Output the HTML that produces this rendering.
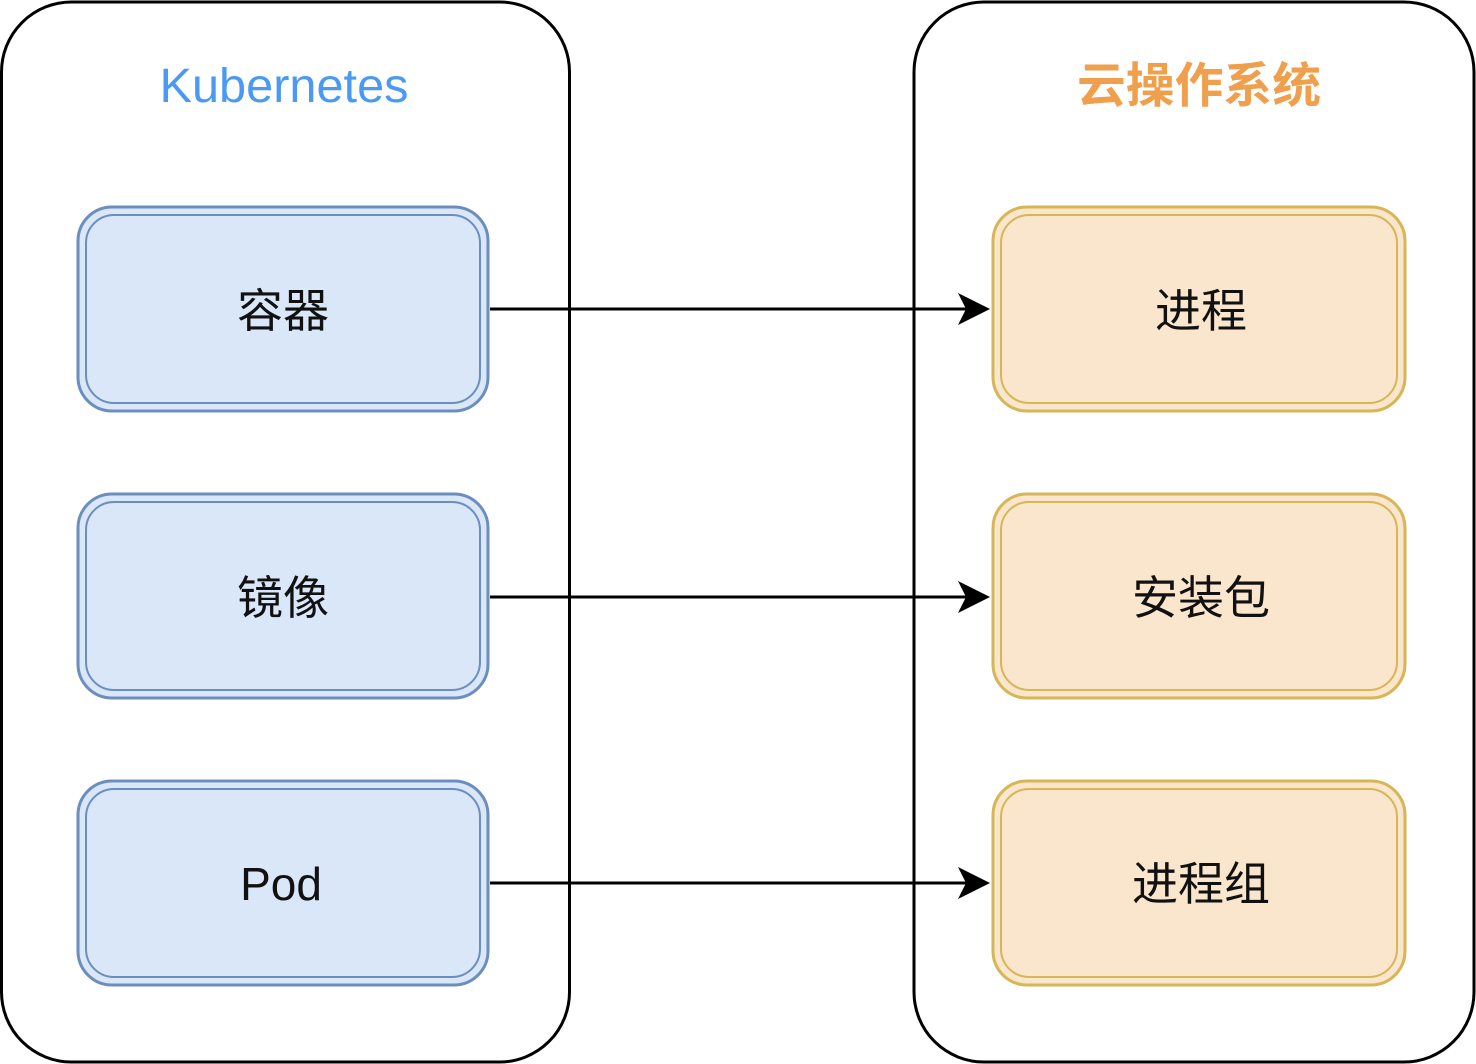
<!DOCTYPE html>
<html><head><meta charset="utf-8"><style>html,body{margin:0;padding:0;background:#fff}svg{display:block}</style></head>
<body>
<svg width="1476" height="1064" viewBox="0 0 1476 1064" xmlns="http://www.w3.org/2000/svg">
<defs>
<marker id="ah" markerWidth="10" markerHeight="10" refX="9" refY="5" orient="auto" markerUnits="userSpaceOnUse"></marker>
</defs>
<rect x="1.5" y="2" width="568" height="1060" rx="70" fill="#fff" stroke="#000" stroke-width="3"/>
<rect x="914" y="2" width="560" height="1060" rx="70" fill="#fff" stroke="#000" stroke-width="3"/>
<text x="284" y="102" text-anchor="middle" font-family="Liberation Sans, sans-serif" font-size="48" fill="#4a9af5" textLength="249" lengthAdjust="spacingAndGlyphs">Kubernetes</text>
<text x="1199" y="102" text-anchor="middle" font-family="Liberation Sans, Noto Sans CJK SC, sans-serif" font-size="48" font-weight="bold" fill="#f0a04c" textLength="244" lengthAdjust="spacingAndGlyphs">云操作系统</text>
<g fill="#dae7f8" stroke="#6c8ebf" stroke-width="3">
<rect x="78" y="207" width="410" height="204" rx="34"/>
<rect x="78" y="494" width="410" height="204" rx="34"/>
<rect x="78" y="781" width="410" height="204" rx="34"/>
</g>
<g fill="none" stroke="#6c8ebf" stroke-width="2">
<rect x="86" y="215" width="394" height="188" rx="28"/>
<rect x="86" y="502" width="394" height="188" rx="28"/>
<rect x="86" y="789" width="394" height="188" rx="28"/>
</g>
<g fill="#fae5cd" stroke="#d6b656" stroke-width="3">
<rect x="993" y="207" width="412" height="204" rx="34"/>
<rect x="993" y="494" width="412" height="204" rx="34"/>
<rect x="993" y="781" width="412" height="204" rx="34"/>
</g>
<g fill="none" stroke="#d6b656" stroke-width="2">
<rect x="1001" y="215" width="396" height="188" rx="28"/>
<rect x="1001" y="502" width="396" height="188" rx="28"/>
<rect x="1001" y="789" width="396" height="188" rx="28"/>
</g>
<g stroke="#000" stroke-width="3">
<line x1="490" y1="309" x2="975" y2="309"/>
<line x1="490" y1="597" x2="975" y2="597"/>
<line x1="490" y1="883" x2="975" y2="883"/>
</g>
<g fill="#000">
<path d="M990 309 L958 293 L966 309 L958 325 Z"/>
<path d="M990 597 L958 581 L966 597 L958 613 Z"/>
<path d="M990 883 L958 867 L966 883 L958 899 Z"/>
</g>
<g font-family="Liberation Sans, Noto Sans CJK SC, sans-serif" font-size="46" fill="#111" text-anchor="middle">
<text x="283" y="327">容器</text>
<text x="283" y="614">镜像</text>
<text x="281" y="900">Pod</text>
<text x="1201" y="327">进程</text>
<text x="1201" y="614">安装包</text>
<text x="1201" y="900">进程组</text>
</g>
</svg>
</body></html>
